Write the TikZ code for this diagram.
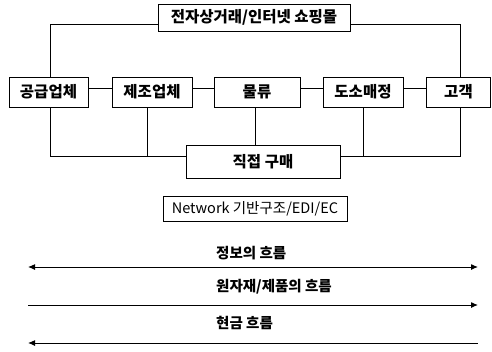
\documentclass[tikz,border=0pt]{standalone}
\usepackage{fontspec}
\newfontfamily\kr{Noto Sans CJK KR}
\usetikzlibrary{arrows.meta}
\begin{document}
\begin{tikzpicture}[x=1pt,y=-1pt,
  box/.style={draw,line width=0.9pt,inner sep=0pt,font=\kr\bfseries\fontsize{15.5}{17}\selectfont},
  conn/.style={line width=0.9pt},
  flow/.style={line width=1pt},
  lbl/.style={anchor=west,inner sep=0pt,font=\kr\bfseries\fontsize{14.5}{16}\selectfont}]
\useasboundingbox (0,0) rectangle (492,351);
\node[box,minimum width=192pt,minimum height=27pt] (top) at (254,17.5) {전자상거래/인터넷 쇼핑몰};
\node[box,minimum width=79pt,minimum height=30pt] (gong) at (48.5,92) {공급업체};
\node[box,minimum width=80pt,minimum height=30pt] (jejo) at (152,92) {제조업체};
\node[box,minimum width=86pt,minimum height=30pt] (mul) at (257,92) {물류};
\node[box,minimum width=80pt,minimum height=30pt] (do) at (363,92) {도소매정};
\node[box,minimum width=64pt,minimum height=30pt] (go) at (458.5,92) {고객};
\node[box,minimum width=154pt,minimum height=33pt] (jik) at (263,161.5) {직접 구매};
\node[box,minimum width=184pt,minimum height=25pt,font=\kr\fontsize{14.5}{16}\selectfont] (net) at (255,208.5) {Network 기반구조/EDI/EC};
% top connectors
\draw[conn] ([xshift=1.5pt]gong.north) |- ([yshift=-6.5pt]top.west);
\draw[conn] ([yshift=-6.5pt]top.east) -| ([xshift=1.5pt]go.north);
% row connectors
\draw[conn] ([yshift=4pt]gong.east) -- ([yshift=4pt]jejo.west);
\draw[conn] ([yshift=4pt]jejo.east) -- ([yshift=4pt]mul.west);
\draw[conn] ([yshift=4pt]mul.east) -- ([yshift=4pt]do.west);
\draw[conn] ([yshift=4pt]do.east) -- ([yshift=4pt]go.west);
% bottom connectors
\coordinate (bl) at ([yshift=5.5pt]jik.west);
\coordinate (br) at ([yshift=5.5pt]jik.east);
\draw[conn] ([xshift=1.5pt]gong.south) |- (bl);
\draw[conn] ([xshift=-5pt]jejo.south) -- ([xshift=-5pt]jejo.south |- bl);
\draw[conn] ([xshift=-2pt]mul.south) -- ([xshift=-2pt]mul.south |- jik.north);
\draw[conn] (br) -| ([xshift=1.5pt]go.south);
\draw[conn] (do.south) -- (do.south |- br);
% flows
\node[lbl] (l1) at (216,253) {정보의 흐름};
\node[lbl] (l2) at (216,287) {원자재/제품의 흐름};
\node[lbl] (l3) at (216,323) {현금 흐름};
\coordinate (a1l) at (28,267); \coordinate (a1r) at (478,267);
\coordinate (a2l) at (28,305); \coordinate (a2r) at (478,305);
\coordinate (a3l) at (28,343); \coordinate (a3r) at (478,343);
\draw[flow,{Latex[length=7pt,width=6pt]}-{Latex[length=7pt,width=6pt]}] (a1l) -- (a1r);
\draw[flow,-{Latex[length=7pt,width=6pt]}] (a2l) -- (a2r);
\draw[flow,{Latex[length=7pt,width=6pt]}-] (a3l) -- (a3r);
\end{tikzpicture}
\end{document}
